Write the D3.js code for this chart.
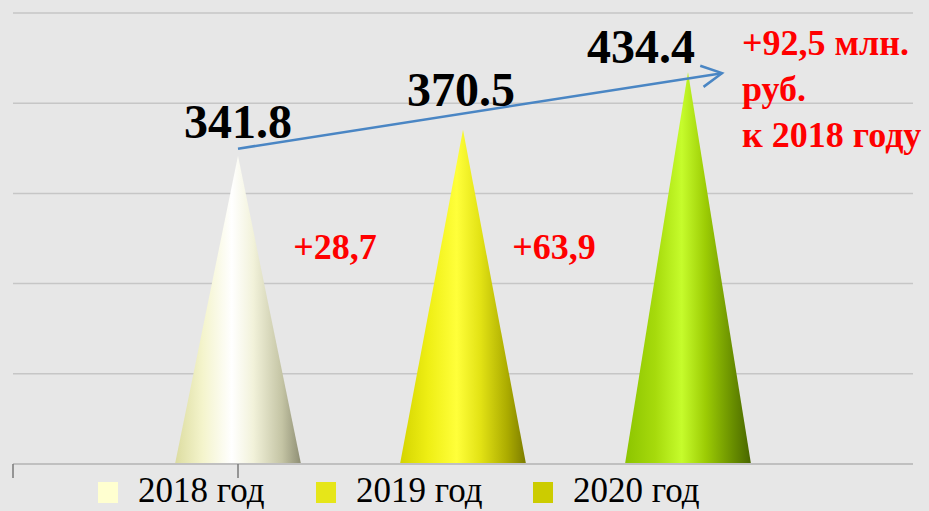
<!DOCTYPE html>
<html>
<head>
<meta charset="utf-8">
<script src="https://cdn.jsdelivr.net/npm/d3@7"></script>
<style>
  body { margin: 0; background: #e7e7e7; }
  svg { display: block; }
</style>
</head>
<body>
<div id="chart"></div>
<script>
// chart data
var years = ["2018 год", "2019 год", "2020 год"];
var values = [341.8, 370.5, 434.4];
var valueLabels = ["341.8", "370.5", "434.4"];
var diffLabels = ["+28,7", "+63,9"];
var noteLines = ["+92,5 млн.", "руб.", "к 2018 году"];
var yTicks = [0, 100, 200, 300, 400, 500];
var legendColors = ["#ffffd0", "#e6e619", "#cccc00"];

var svgWidth = 929;
var svgHeight = 511;
var margin = { top: 13, right: 16, bottom: 47, left: 13 };
var width = svgWidth - margin.left - margin.right;
var height = svgHeight - margin.top - margin.bottom;

var svg = d3.select("#chart")
  .append("svg")
  .attr("width", svgWidth)
  .attr("height", svgHeight);

svg.append("rect")
  .attr("width", svgWidth)
  .attr("height", svgHeight)
  .attr("fill", "#e7e7e7");

var chartGroup = svg.append("g")
  .attr("transform", `translate(${margin.left}, ${margin.top})`);

var xScale = d3.scalePoint()
  .domain(years)
  .range([0, width])
  .padding(1);

var yScale = d3.scaleLinear()
  .domain([0, 500])
  .range([height, 0]);

// gradients for the cones (left -> highlight -> shaded right side)
var coneStops = [
  [["0%", "#dcdca0"], ["22%", "#f4f4cc"], ["45%", "#ffffff"], ["62%", "#f2f2da"], ["85%", "#c4c4a4"], ["100%", "#8e8e74"]],
  [["0%", "#d4d400"], ["22%", "#eeee14"], ["45%", "#ffff3a"], ["64%", "#e2e214"], ["85%", "#acac00"], ["100%", "#7c7c00"]],
  [["0%", "#8cc400"], ["24%", "#a6da0c"], ["45%", "#c6fc2c"], ["64%", "#9ccc04"], ["85%", "#6a9000"], ["100%", "#486600"]]
];

var defs = svg.append("defs");
coneStops.forEach(function(stops, i) {
  var grad = defs.append("linearGradient")
    .attr("id", "cone" + i)
    .attr("x1", "0%").attr("x2", "100%")
    .attr("y1", "0%").attr("y2", "0%");
  stops.forEach(function(s) {
    grad.append("stop").attr("offset", s[0]).attr("stop-color", s[1]);
  });
});

// gridlines
chartGroup.selectAll(".grid")
  .data(yTicks.slice(1))
  .enter()
  .append("line")
  .attr("x1", 0)
  .attr("x2", width)
  .attr("y1", d => yScale(d))
  .attr("y2", d => yScale(d))
  .attr("stroke", "#c6c6c6")
  .attr("stroke-width", 1.5);

// cones
var halfBase = 63;
chartGroup.selectAll(".cone")
  .data(values)
  .enter()
  .append("path")
  .attr("d", function(d, i) {
    var cx = xScale(years[i]);
    var tip = yScale(d);
    return `M${cx - halfBase},${height} L${cx},${tip} L${cx + halfBase},${height} Z`;
  })
  .attr("fill", (d, i) => `url(#cone${i})`);

// x axis line and the visible ticks
chartGroup.append("line")
  .attr("x1", 0).attr("x2", width)
  .attr("y1", height).attr("y2", height)
  .attr("stroke", "#c0c0c0")
  .attr("stroke-width", 2);

chartGroup.selectAll(".tick")
  .data([0, xScale(years[0])])
  .enter()
  .append("line")
  .attr("x1", d => d).attr("x2", d => d)
  .attr("y1", height).attr("y2", height + 14)
  .attr("stroke", "#7a7a7a")
  .attr("stroke-width", 1.5);

// trend arrow
var start = [xScale(years[0]), yScale(values[0]) - 7];
var end = [xScale(years[2]) + 34, yScale(values[2]) + 1];
var arrowColor = "#4a86c4";
chartGroup.append("line")
  .attr("x1", start[0]).attr("y1", start[1])
  .attr("x2", end[0]).attr("y2", end[1])
  .attr("stroke", arrowColor)
  .attr("stroke-width", 2.5);

var ang = Math.atan2(end[1] - start[1], end[0] - start[0]);
var arm = 23;
var spread = Math.PI / 6.5;
chartGroup.append("path")
  .attr("d", `M${end[0] - arm * Math.cos(ang - spread)},${end[1] - arm * Math.sin(ang - spread)}
    L${end[0]},${end[1]}
    L${end[0] - arm * Math.cos(ang + spread)},${end[1] - arm * Math.sin(ang + spread)}`)
  .attr("fill", "none")
  .attr("stroke", arrowColor)
  .attr("stroke-width", 2.5);

// value labels
var valueShift = [[0, -18], [-2, -24], [-47, -9]];
chartGroup.selectAll(".value")
  .data(valueLabels)
  .enter()
  .append("text")
  .attr("x", (d, i) => xScale(years[i]) + valueShift[i][0])
  .attr("y", (d, i) => yScale(values[i]) + valueShift[i][1])
  .attr("text-anchor", "middle")
  .attr("font-family", "Liberation Serif, serif")
  .attr("font-weight", "bold")
  .attr("font-size", 48)
  .attr("fill", "#000")
  .text(d => d);

// differences between years
var diffX = [xScale(years[0]) + 97, xScale(years[1]) + 91];
chartGroup.selectAll(".diff")
  .data(diffLabels)
  .enter()
  .append("text")
  .attr("x", (d, i) => diffX[i])
  .attr("y", 259 - margin.top)
  .attr("text-anchor", "middle")
  .attr("font-family", "Liberation Serif, serif")
  .attr("font-weight", "bold")
  .attr("font-size", 36)
  .attr("fill", "#ff0000")
  .text(d => d);

// note on the right
chartGroup.selectAll(".note")
  .data(noteLines)
  .enter()
  .append("text")
  .attr("x", 742 - margin.left)
  .attr("y", (d, i) => 55 - margin.top + i * 46)
  .attr("font-family", "Liberation Serif, serif")
  .attr("font-weight", "bold")
  .attr("font-size", 36)
  .attr("fill", "#ff0000")
  .text(d => d);

// legend
var legendX = [98, 316, 533];
var legend = svg.selectAll(".legend")
  .data(years)
  .enter()
  .append("g")
  .attr("transform", (d, i) => `translate(${legendX[i]}, 482)`);

legend.append("rect")
  .attr("width", 20)
  .attr("height", 21)
  .attr("fill", (d, i) => legendColors[i]);

legend.append("text")
  .attr("x", 40)
  .attr("y", 20)
  .attr("font-family", "Liberation Serif, serif")
  .attr("font-size", 35)
  .attr("fill", "#000")
  .text(d => d);
</script>
</body>
</html>
